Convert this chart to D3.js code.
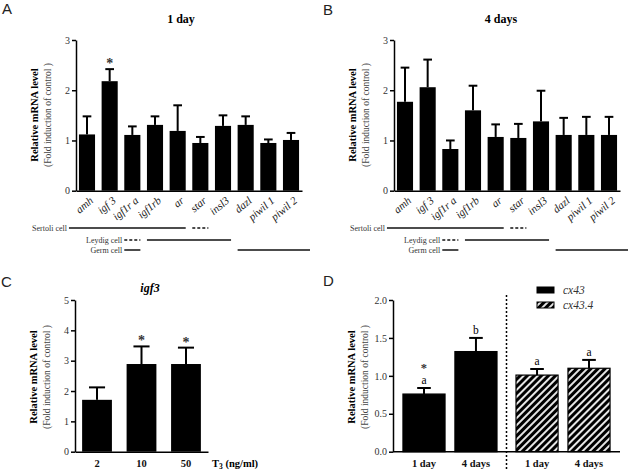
<!DOCTYPE html>
<html>
<head>
<meta charset="utf-8">
<script src="https://cdn.jsdelivr.net/npm/d3@7"></script>
<style>
body { margin: 0; background: #fff; }
</style>
</head>
<body>
<svg id="chart" width="628" height="471"></svg>
<script>
// data
const genes = ["amh", "igf 3", "igf1r a", "igf1rb", "ar", "star", "insl3", "dazl", "piwil 1", "piwil 2"];
const day1Mean = [1.12, 2.18, 1.11, 1.31, 1.19, 0.95, 1.29, 1.31, 0.95, 1.01];
const day1Err  = [0.36, 0.24, 0.17, 0.17, 0.51, 0.12, 0.21, 0.17, 0.07, 0.14];
const day1Sig  = ["", "*", "", "", "", "", "", "", "", ""];
const day4Mean = [1.77, 2.06, 0.83, 1.60, 1.07, 1.05, 1.38, 1.11, 1.11, 1.11];
const day4Err  = [0.68, 0.55, 0.17, 0.49, 0.25, 0.28, 0.61, 0.34, 0.36, 0.36];
const day4Sig  = ["", "", "", "", "", "", "", "", "", ""];
const geneTicks = [0, 1, 2, 3];

// which genes belong to which cell type (solid = expressed, dashed = weak)
const cellRows   = ["Sertoli cell", "Leydig cell", "Germ cell"];
const cellSolid  = [[["amh", "ar"]], [["igf1rb", "insl3"]], [["igf1r a", "igf1r a"], ["dazl", "piwil 2"]]];
const cellDashed = [[["star", "star"]], [["igf1r a", "igf1r a"]], []];

const doses = ["2", "10", "50"];
const doseMean = [1.71, 2.89, 2.89];
const doseErr  = [0.41, 0.58, 0.54];
const doseSig  = ["", "*", "*"];
const doseTicks = [0, 1, 2, 3, 4, 5];

const cxGenes = ["cx43", "cx43.4"];
const days = ["1 day", "4 days"];
const cx43Mean  = [0.76, 1.32];
const cx43Err   = [0.08, 0.18];
const cx43Lab   = ["a", "b"];
const cx43Sig   = ["*", ""];
const cx434Mean = [1.01, 1.10];
const cx434Err  = [0.08, 0.11];
const cx434Lab  = ["a", "a"];
const cx434Sig  = ["", ""];
const cxTicks = [0, 0.5, 1, 1.5, 2];

const SERIF = "'Liberation Serif', 'Times New Roman', serif";
const STAR = d => d ? d + "\uFE0E" : "";

const svg = d3.select("#chart");

// hatch for cx43.4
const defs = svg.append("defs");
const pat = defs.append("pattern")
  .attr("id", "hatch")
  .attr("patternUnits", "userSpaceOnUse")
  .attr("width", 5).attr("height", 5)
  .attr("patternTransform", "rotate(45)");
pat.append("rect").attr("width", 5).attr("height", 5).attr("fill", "#000");
pat.append("line").attr("x1", 1).attr("y1", 0).attr("x2", 1).attr("y2", 5)
  .attr("stroke", "#fff").attr("stroke-width", 1.8);

function panelLetter(txt, x, y) {
  svg.append("text").attr("x", x).attr("y", y).attr("class", "letter")
    .style("font-family", "'Liberation Sans', Arial, sans-serif")
    .style("font-size", "15px").attr("fill", "#222").text(txt);
}

function yTitle(axisX, cy) {
  svg.append("text")
    .attr("transform", `translate(${axisX - 38},${cy}) rotate(-90)`)
    .attr("text-anchor", "middle")
    .style("font-size", "10.5px").style("font-weight", "bold")
    .text("Relative mRNA level");
  svg.append("text")
    .attr("transform", `translate(${axisX - 25},${cy}) rotate(-90)`)
    .attr("text-anchor", "middle")
    .style("font-size", "9.5px").attr("fill", "#444")
    .text("(Fold induction of control )");
}

function leftAxis(y, x0, ticks, fmt) {
  const g = svg.append("g")
    .attr("transform", `translate(${x0},0)`)
    .call(d3.axisLeft(y).tickValues(ticks).tickSize(4).tickSizeOuter(0).tickPadding(2).tickFormat(fmt));
  g.selectAll("text").style("font-size", "10px").attr("fill", "#333");
  g.selectAll("path,line").attr("stroke-width", 1.5);
  return g;
}

function errBars(g, cx, bw, means, errs, y) {
  means.forEach((m, i) => {
    const c = cx(i), top = y(m + errs[i]);
    g.append("line").attr("x1", c).attr("x2", c).attr("y1", y(m)).attr("y2", top)
      .attr("stroke", "#000").attr("stroke-width", 2);
    g.append("line").attr("x1", c - bw * 0.27).attr("x2", c + bw * 0.27).attr("y1", top).attr("y2", top)
      .attr("stroke", "#000").attr("stroke-width", 2);
  });
}

function starText(sel) {
  sel.attr("text-anchor", "middle").attr("fill", "#333")
    .style("font-size", "14px").style("font-weight", "bold").text(STAR);
}

// Panels A & B
function genePanel(left, right, title, titleX, means, errs, sig) {
  const x = d3.scaleBand().domain(genes).range([left, right]).paddingInner(0.29).paddingOuter(0.13);
  const y = d3.scaleLinear().domain([0, 3]).range([190.7, 40]);
  const g = svg.append("g");

  g.selectAll("rect.bar").data(genes).join("rect")
    .attr("x", d => x(d)).attr("width", x.bandwidth())
    .attr("y", (d, i) => y(means[i]))
    .attr("height", (d, i) => y(0) - y(means[i]))
    .attr("fill", "#000");

  errBars(g, i => x(genes[i]) + x.bandwidth() / 2, x.bandwidth(), means, errs, y);

  g.selectAll("text.sig").data(sig).join("text")
    .attr("x", (d, i) => x(genes[i]) + x.bandwidth() / 2)
    .attr("y", (d, i) => y(means[i] + errs[i]) - 1)
    .call(starText);

  leftAxis(y, left, geneTicks, d3.format("d"));

  const xg = svg.append("g")
    .attr("transform", `translate(0,${y(0)})`)
    .call(d3.axisBottom(x).tickSize(0).tickSizeOuter(0));
  xg.select(".domain").attr("stroke-width", 1.5);
  xg.selectAll("text")
    .attr("y", 0).attr("dy", 0)
    .attr("transform", "translate(7,11) rotate(-40)")
    .attr("text-anchor", "end")
    .style("font-size", "11px").style("font-style", "italic").attr("fill", "#222");

  svg.append("text").attr("x", titleX).attr("y", 23).attr("text-anchor", "middle")
    .style("font-size", "12px").style("font-weight", "bold").text(title);

  yTitle(left, 115);

  // cell type rows under the gene labels
  const rowY = [228, 240, 250];
  cellRows.forEach((name, r) => {
    const segs = cellSolid[r].map(s => ({ s, dash: false }))
      .concat(cellDashed[r].map(s => ({ s, dash: true })));
    let minX = Infinity;
    segs.forEach(({ s, dash }) => {
      let x1 = x(s[0]), x2 = x(s[1]) + x.bandwidth();
      if (s[0] === genes[0]) x1 -= 10;
      if (s[1] === genes[genes.length - 1]) x2 = right + 8;
      minX = Math.min(minX, x1);
      g.append("line").attr("x1", x1).attr("x2", x2).attr("y1", rowY[r]).attr("y2", rowY[r])
        .attr("stroke", "#111").attr("stroke-width", 1.5)
        .attr("stroke-dasharray", dash ? "3,2" : null);
    });
    g.append("text").attr("x", minX - 2).attr("y", rowY[r] + 2.5)
      .attr("text-anchor", "end").style("font-size", "8px").attr("fill", "#333").text(name);
  });
}

genePanel(76, 302, "1 day", 181, day1Mean, day1Err, day1Sig);
genePanel(394, 620, "4 days", 501, day4Mean, day4Err, day4Sig);

// Panel C
{
  const x = d3.scaleBand().domain(doses).range([75, 208]).paddingInner(0.33).paddingOuter(0.16);
  const y = d3.scaleLinear().domain([0, 5]).range([451.7, 300]);
  const g = svg.append("g");
  g.selectAll("rect").data(doses).join("rect")
    .attr("x", d => x(d)).attr("width", x.bandwidth())
    .attr("y", (d, i) => y(doseMean[i])).attr("height", (d, i) => y(0) - y(doseMean[i]))
    .attr("fill", "#000");
  errBars(g, i => x(doses[i]) + x.bandwidth() / 2, x.bandwidth(), doseMean, doseErr, y);
  g.selectAll("text.sig").data(doseSig).join("text")
    .attr("x", (d, i) => x(doses[i]) + x.bandwidth() / 2)
    .attr("y", (d, i) => y(doseMean[i] + doseErr[i]) - 1)
    .call(starText);

  leftAxis(y, 75, doseTicks, d3.format("d"));
  const xg = svg.append("g").attr("transform", `translate(0,${y(0)})`)
    .call(d3.axisBottom(x).tickSize(0).tickSizeOuter(0));
  xg.select(".domain").attr("stroke-width", 1.5);
  xg.selectAll("text").attr("y", 15).attr("dy", 0)
    .style("font-size", "10.5px").style("font-weight", "bold").attr("fill", "#111");

  const t = svg.append("text").attr("x", 212).attr("y", 466.7)
    .style("font-size", "10.5px").style("font-weight", "bold");
  t.append("tspan").text("T");
  t.append("tspan").attr("dy", 2.5).style("font-size", "7.5px").text("3");
  t.append("tspan").attr("dy", -2.5).text(" (ng/ml)");

  svg.append("text").attr("x", 150).attr("y", 292).attr("text-anchor", "middle")
    .style("font-size", "12px").style("font-weight", "bold").style("font-style", "italic").text("igf3");
  yTitle(75, 377);
}

// Panel D
{
  const outer = d3.scaleBand().domain(cxGenes).range([393, 620]).paddingInner(0.168).paddingOuter(0.088);
  const inner = d3.scaleBand().domain(days).range([0, outer.bandwidth()]).paddingInner(0.19);
  const y = d3.scaleLinear().domain([0, 2]).range([451.7, 300]);
  const g = svg.append("g");
  const series = [
    { gene: "cx43", mean: cx43Mean, err: cx43Err, lab: cx43Lab, sig: cx43Sig, fill: "#000" },
    { gene: "cx43.4", mean: cx434Mean, err: cx434Err, lab: cx434Lab, sig: cx434Sig, fill: "url(#hatch)" }
  ];
  series.forEach(s => {
    const bx = d => outer(s.gene) + inner(d);
    const cxOf = i => bx(days[i]) + inner.bandwidth() / 2;
    g.selectAll(null).data(s.lab).join("text")
      .attr("x", (d, i) => cxOf(i))
      .attr("y", (d, i) => y(s.mean[i] + s.err[i]) - 4)
      .attr("text-anchor", "middle").style("font-size", "11.5px").text(d => d);
    g.selectAll(null).data(s.sig).join("text")
      .attr("x", (d, i) => cxOf(i))
      .attr("y", (d, i) => y(s.mean[i] + s.err[i]) - 16)
      .attr("text-anchor", "middle").attr("fill", "#333")
      .style("font-size", "12.5px").style("font-weight", "bold").text(STAR);
    g.selectAll(null).data(days).join("rect")
      .attr("x", d => bx(d)).attr("width", inner.bandwidth())
      .attr("y", (d, i) => y(s.mean[i])).attr("height", (d, i) => y(0) - y(s.mean[i]))
      .attr("fill", s.fill).attr("stroke", "#000").attr("stroke-width", 1.2);
    errBars(g, cxOf, inner.bandwidth() * 0.6, s.mean, s.err, y);

    const xg = svg.append("g").attr("transform", `translate(${outer(s.gene)},${y(0)})`)
      .call(d3.axisBottom(inner).tickSize(0).tickSizeOuter(0));
    xg.select(".domain").remove();
    xg.selectAll("text").attr("y", 15).attr("dy", 0)
      .style("font-size", "10.5px").style("font-weight", "bold").attr("fill", "#111");
  });
  svg.append("line").attr("x1", 393).attr("x2", 620).attr("y1", y(0)).attr("y2", y(0))
    .attr("stroke", "#000").attr("stroke-width", 1.5);
  leftAxis(y, 393, cxTicks, d3.format(".1f"));

  const midX = (outer("cx43") + outer.bandwidth() + outer("cx43.4")) / 2;
  svg.append("line").attr("x1", midX).attr("x2", midX).attr("y1", 295).attr("y2", 471)
    .attr("stroke", "#000").attr("stroke-width", 1.5).attr("stroke-dasharray", "2,2");

  // legend
  series.forEach((s, i) => {
    svg.append("rect").attr("x", 537).attr("y", 287 + i * 15).attr("width", 17).attr("height", 6)
      .attr("fill", s.fill).attr("stroke", "#000").attr("stroke-width", 1);
    svg.append("text").attr("x", 563).attr("y", 293.5 + i * 15)
      .style("font-size", "11.5px").style("font-style", "italic").attr("fill", "#333").text(s.gene);
  });
  yTitle(393, 377);
}

panelLetter("A", 2, 14);
panelLetter("B", 323, 15);
panelLetter("C", 1, 287);
panelLetter("D", 323, 286);

// serif everywhere except the panel letters
svg.selectAll("text:not(.letter)").style("font-family", SERIF);
</script>
</body>
</html>
